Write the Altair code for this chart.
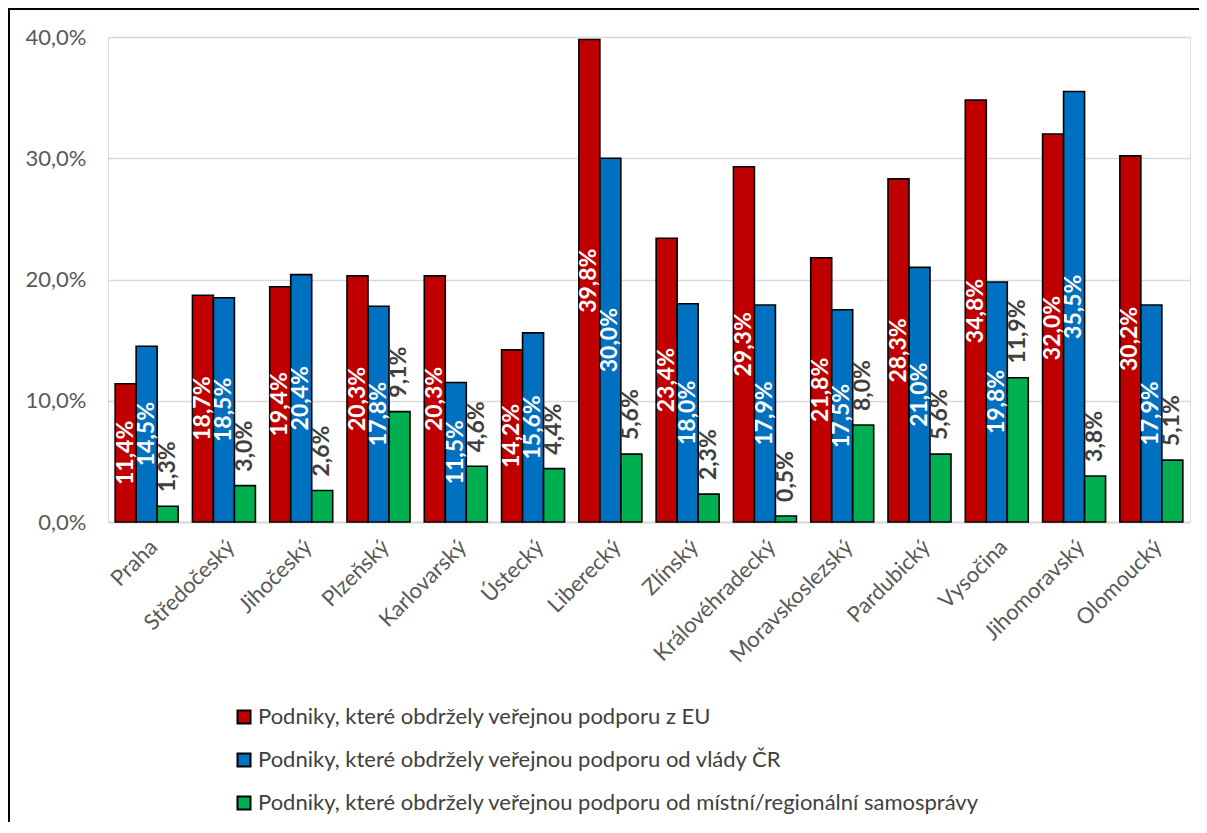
import altair as alt
import pandas as pd

regions = ["Praha", "Středočeský", "Jihočeský", "Plzeňský", "Karlovarský", "Ústecký",
           "Liberecký", "Zlínský", "Královéhradecký", "Moravskoslezský", "Pardubický",
           "Vysočina", "Jihomoravský", "Olomoucký"]
series = ["Podniky, které obdržely veřejnou podporu z EU",
          "Podniky, které obdržely veřejnou podporu od vlády ČR",
          "Podniky, které obdržely veřejnou podporu od místní/regionální samosprávy"]
eu = [11.4, 18.7, 19.4, 20.3, 20.3, 14.2, 39.8, 23.4, 29.3, 21.8, 28.3, 34.8, 32.0, 30.2]
gov = [14.5, 18.5, 20.4, 17.8, 11.5, 15.6, 30.0, 18.0, 17.9, 17.5, 21.0, 19.8, 35.5, 17.9]
local = [1.3, 3.0, 2.6, 9.1, 4.6, 4.4, 5.6, 2.3, 0.5, 8.0, 5.6, 11.9, 3.8, 5.1]
colors = ["#C00000", "#0070C0", "#00B050"]
y_ticks = [0, 10, 20, 30, 40]

rows = []
for s, vals in zip(series, [eu, gov, local]):
    for r, v in zip(regions, vals):
        rows.append({"region": r, "series": s, "value": v})
df = pd.DataFrame(rows)

W, H = 1082, 485
FONT = "Lato"

x_enc = alt.X("region:N", sort=regions, title=None,
              scale=alt.Scale(paddingInner=0.185, paddingOuter=0.0925),
              axis=alt.Axis(labelAngle=-45, labelAlign="right", labelBaseline="top",
                            labelFontSize=22, labelColor="#595959", labelFont=FONT,
                            labelPadding=14, ticks=False, domainColor="#D9D9D9",
                            domainWidth=2))
xo_enc = alt.XOffset("series:N", sort=series, scale=alt.Scale(paddingInner=0, paddingOuter=0))

base = alt.Chart(df).transform_calculate(
    label="replace(format(datum.value, '.1f'), '.', ',') + '%'",
    mid="datum.value / 2"
)

bars = base.mark_bar(stroke="black", strokeWidth=1.6).encode(
    x=x_enc, xOffset=xo_enc,
    y=alt.Y("value:Q", title=None,
            scale=alt.Scale(domain=[0, 40], nice=False),
            axis=alt.Axis(values=y_ticks, labelExpr="replace(format(datum.value, '.1f'), '.', ',') + '%'",
                          labelFontSize=22, labelColor="#595959", labelFont=FONT,
                          labelPadding=22, ticks=False, domain=False,
                          gridColor="#D9D9D9", gridWidth=1.6)),
    color=alt.Color("series:N", sort=series,
                    scale=alt.Scale(domain=series, range=colors),
                    legend=alt.Legend(title=None, orient="none", legendX=125, legendY=669,
                                      direction="vertical", symbolType="square",
                                      symbolSize=170, symbolStrokeColor="black",
                                      symbolStrokeWidth=2, labelFontSize=22,
                                      labelColor="#404040", labelFont=FONT,
                                      rowPadding=21, labelLimit=900, symbolOffset=0,
                                      labelOffset=3))
)

inner = base.transform_filter(
    alt.FieldOneOfPredicate(field="series", oneOf=series[:2])
).mark_text(angle=270, align="center", baseline="middle", fontSize=23,
            fontWeight="bold", color="white", font=FONT).encode(
    x=x_enc, xOffset=xo_enc, y=alt.Y("mid:Q"), text="label:N"
)

outer = base.transform_filter(
    alt.FieldEqualPredicate(field="series", equal=series[2])
).mark_text(angle=270, align="left", baseline="middle", fontSize=23,
            fontWeight="bold", color="#404040", font=FONT, dx=14).encode(
    x=x_enc, xOffset=xo_enc, y=alt.Y("value:Q"), text="label:N"
)

frame_df = pd.DataFrame({"k": [0]})
frame_left = alt.Chart(frame_df).mark_rule(color="black", strokeWidth=2).encode(
    x=alt.value(-99), y=alt.value(-29), y2=alt.value(H + 320))
frame_top = alt.Chart(frame_df).mark_rule(color="black", strokeWidth=2).encode(
    x=alt.value(-100), x2=alt.value(W + 20), y=alt.value(-28))

chart = alt.layer(bars, inner, outer, frame_left, frame_top).properties(
    width=W, height=H,
    autosize=alt.AutoSizeParams(type="none"),
    padding={"left": 100, "top": 29, "right": 9, "bottom": 300},
).configure_view(stroke=None).configure(background="white")

chart.save("out.html", embed_options={"renderer": "svg", "actions": False})
